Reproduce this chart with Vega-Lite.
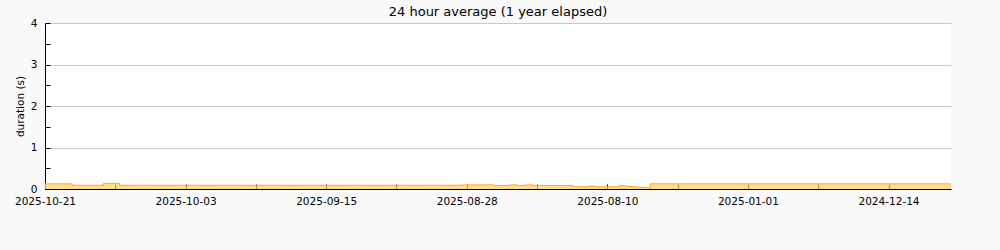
{
  "$schema": "https://vega.github.io/schema/vega-lite/v6.json",
  "width": 906,
  "height": 166,
  "autosize": {"type": "none"},
  "padding": {"left": 45, "top": 23, "right": 49, "bottom": 61},
  "background": "#f9f9f9",
  "title": {"text": "24 hour average (1 year elapsed)", "font": "DejaVu Sans", "fontSize": 13, "fontWeight": "normal", "color": "#000000", "frame": "group", "offset": -1},
  "config": {
    "view": {"fill": "#ffffff", "stroke": null},
    "axis": {"domainColor": "#000000", "tickColor": "#000000", "labelColor": "#000000", "titleColor": "#000000", "labelFont": "DejaVu Sans", "titleFont": "DejaVu Sans", "labelFontSize": 10.5, "titleFontSize": 10.5, "titleFontWeight": "normal", "gridColor": "#c8c8c8", "domainWidth": 1, "tickWidth": 1}
  },
  "data": {"values": [
    {"date": "2025-10-21", "value": 0.125},
    {"date": "2025-10-20", "value": 0.125},
    {"date": "2025-10-19", "value": 0.125},
    {"date": "2025-10-18", "value": 0.125},
    {"date": "2025-10-17", "value": 0.09},
    {"date": "2025-10-16", "value": 0.09},
    {"date": "2025-10-15", "value": 0.09},
    {"date": "2025-10-14", "value": 0.09},
    {"date": "2025-10-13", "value": 0.135},
    {"date": "2025-10-12", "value": 0.135},
    {"date": "2025-10-11", "value": 0.09},
    {"date": "2025-10-10", "value": 0.09},
    {"date": "2025-10-09", "value": 0.09},
    {"date": "2025-10-08", "value": 0.09},
    {"date": "2025-10-07", "value": 0.09},
    {"date": "2025-10-06", "value": 0.09},
    {"date": "2025-10-05", "value": 0.09},
    {"date": "2025-10-04", "value": 0.09},
    {"date": "2025-10-03", "value": 0.09},
    {"date": "2025-10-02", "value": 0.09},
    {"date": "2025-10-01", "value": 0.09},
    {"date": "2025-09-30", "value": 0.09},
    {"date": "2025-09-29", "value": 0.09},
    {"date": "2025-09-28", "value": 0.09},
    {"date": "2025-09-27", "value": 0.09},
    {"date": "2025-09-26", "value": 0.09},
    {"date": "2025-09-25", "value": 0.09},
    {"date": "2025-09-24", "value": 0.09},
    {"date": "2025-09-23", "value": 0.09},
    {"date": "2025-09-22", "value": 0.09},
    {"date": "2025-09-21", "value": 0.09},
    {"date": "2025-09-20", "value": 0.09},
    {"date": "2025-09-19", "value": 0.09},
    {"date": "2025-09-18", "value": 0.09},
    {"date": "2025-09-17", "value": 0.09},
    {"date": "2025-09-16", "value": 0.09},
    {"date": "2025-09-15", "value": 0.09},
    {"date": "2025-09-14", "value": 0.09},
    {"date": "2025-09-13", "value": 0.09},
    {"date": "2025-09-12", "value": 0.09},
    {"date": "2025-09-11", "value": 0.09},
    {"date": "2025-09-10", "value": 0.09},
    {"date": "2025-09-09", "value": 0.09},
    {"date": "2025-09-08", "value": 0.09},
    {"date": "2025-09-07", "value": 0.09},
    {"date": "2025-09-06", "value": 0.09},
    {"date": "2025-09-05", "value": 0.09},
    {"date": "2025-09-04", "value": 0.09},
    {"date": "2025-09-03", "value": 0.09},
    {"date": "2025-09-02", "value": 0.09},
    {"date": "2025-09-01", "value": 0.09},
    {"date": "2025-08-31", "value": 0.09},
    {"date": "2025-08-30", "value": 0.09},
    {"date": "2025-08-29", "value": 0.09},
    {"date": "2025-08-28", "value": 0.1},
    {"date": "2025-08-27", "value": 0.1},
    {"date": "2025-08-26", "value": 0.1},
    {"date": "2025-08-25", "value": 0.1},
    {"date": "2025-08-24", "value": 0.085},
    {"date": "2025-08-23", "value": 0.085},
    {"date": "2025-08-22", "value": 0.1},
    {"date": "2025-08-21", "value": 0.085},
    {"date": "2025-08-20", "value": 0.1},
    {"date": "2025-08-19", "value": 0.085},
    {"date": "2025-08-18", "value": 0.085},
    {"date": "2025-08-17", "value": 0.085},
    {"date": "2025-08-16", "value": 0.085},
    {"date": "2025-08-15", "value": 0.085},
    {"date": "2025-08-14", "value": 0.055},
    {"date": "2025-08-13", "value": 0.055},
    {"date": "2025-08-12", "value": 0.07},
    {"date": "2025-08-11", "value": 0.055},
    {"date": "2025-08-10", "value": 0.055},
    {"date": "2025-08-09", "value": 0.055},
    {"date": "2025-08-08", "value": 0.08},
    {"date": "2025-08-07", "value": 0.06},
    {"date": "2025-08-06", "value": 0.045},
    {"date": "2025-08-05", "value": 0.03},
    {"date": "2025-01-13", "value": 0.125},
    {"date": "2025-01-12", "value": 0.125},
    {"date": "2025-01-11", "value": 0.125},
    {"date": "2025-01-10", "value": 0.125},
    {"date": "2025-01-09", "value": 0.125},
    {"date": "2025-01-08", "value": 0.125},
    {"date": "2025-01-07", "value": 0.125},
    {"date": "2025-01-06", "value": 0.125},
    {"date": "2025-01-05", "value": 0.125},
    {"date": "2025-01-04", "value": 0.125},
    {"date": "2025-01-03", "value": 0.125},
    {"date": "2025-01-02", "value": 0.125},
    {"date": "2025-01-01", "value": 0.125},
    {"date": "2024-12-31", "value": 0.125},
    {"date": "2024-12-30", "value": 0.125},
    {"date": "2024-12-29", "value": 0.125},
    {"date": "2024-12-28", "value": 0.125},
    {"date": "2024-12-27", "value": 0.125},
    {"date": "2024-12-26", "value": 0.125},
    {"date": "2024-12-25", "value": 0.125},
    {"date": "2024-12-24", "value": 0.125},
    {"date": "2024-12-23", "value": 0.125},
    {"date": "2024-12-22", "value": 0.125},
    {"date": "2024-12-21", "value": 0.125},
    {"date": "2024-12-20", "value": 0.125},
    {"date": "2024-12-19", "value": 0.125},
    {"date": "2024-12-18", "value": 0.125},
    {"date": "2024-12-17", "value": 0.125},
    {"date": "2024-12-16", "value": 0.125},
    {"date": "2024-12-15", "value": 0.125},
    {"date": "2024-12-14", "value": 0.125},
    {"date": "2024-12-13", "value": 0.125},
    {"date": "2024-12-12", "value": 0.125},
    {"date": "2024-12-11", "value": 0.125},
    {"date": "2024-12-10", "value": 0.125},
    {"date": "2024-12-09", "value": 0.125},
    {"date": "2024-12-08", "value": 0.125},
    {"date": "2024-12-07", "value": 0.125},
    {"date": "2024-12-06", "value": 0.125}
  ]},
  "mark": {"type": "area", "interpolate": "step", "color": "#ffcc66", "line": {"color": "#ffaa22", "strokeWidth": 1}},
  "encoding": {
    "x": {
      "field": "date", "type": "ordinal", "sort": null,
      "scale": {"type": "point", "padding": 0},
      "axis": {
        "title": null, "grid": false, "labelAngle": 0, "tickSize": -5, "labelPadding": 12,
        "values": ["2025-10-21", "2025-10-12", "2025-10-03", "2025-09-24", "2025-09-15", "2025-09-06", "2025-08-28", "2025-08-19", "2025-08-10", "2025-01-10", "2025-01-01", "2024-12-23", "2024-12-14"],
        "labelExpr": "indexof(['2025-10-21','2025-10-03','2025-09-15','2025-08-28','2025-08-10','2025-01-01','2024-12-14'], datum.value) >= 0 ? datum.label : ''"
      }
    },
    "y": {
      "field": "value", "type": "quantitative",
      "scale": {"domain": [0, 4], "nice": false},
      "axis": {
        "title": "duration (s)", "titlePadding": 5, "tickSize": -5, "labelPadding": 13,
        "values": [0, 0.5, 1, 1.5, 2, 2.5, 3, 3.5, 4],
        "labelExpr": "datum.value % 1 == 0 ? format(datum.value, 'd') : ''",
        "gridOpacity": {"condition": {"test": "datum.value % 1 != 0", "value": 0}, "value": 1}
      }
    }
  }
}
